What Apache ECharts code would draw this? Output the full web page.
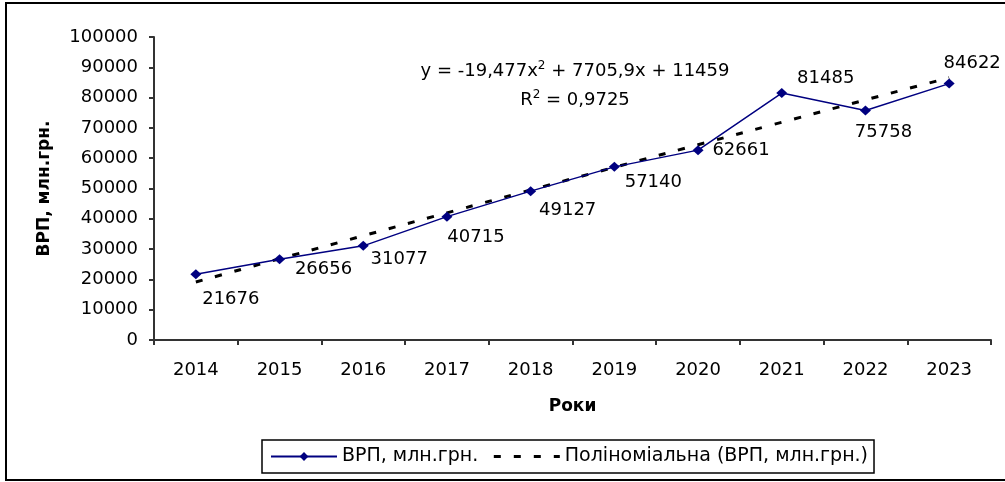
<!DOCTYPE html>
<html>
<head>
<meta charset="utf-8">
<script src="https://cdn.jsdelivr.net/npm/echarts@6/dist/echarts.min.js"></script>
<style>
html,body{margin:0;padding:0;background:#fff;}
#c{width:1005px;height:482px;}
</style>
</head>
<body>
<div id="c"></div>
<script>
// ---- data ----
const years = ['2014','2015','2016','2017','2018','2019','2020','2021','2022','2023'];
const grpValues = [21676, 26656, 31077, 40715, 49127, 57140, 62661, 81485, 75758, 84622];
// polynomial trend (as shown on chart: y = -19,477x^2 + 7705,9x + 11459)
const trendValues = [19145, 26793, 34401, 41971, 49502, 56993, 64446, 71860, 79235, 86570];
const seriesName = 'ВРП, млн.грн.';
const trendName = 'Поліноміальна (ВРП, млн.грн.)';
const xAxisTitle = 'Роки';
const yAxisTitle = 'ВРП, млн.грн.';
const equationText = '{n|y = -19,477x}{s|2}{n| + 7705,9x + 11459}';
const r2Text = '{n|R}{s|2}{n| = 0,9725}';

// ---- styling (label placement offsets per point) ----
const labelOffsets = [[35,25],[44,10],[36,13],[29,21],[37,19],[39,15],[43,0],[44,-15],[18,22],[23,-20]];

const FONT = 'DejaVu Sans';
const chart = echarts.init(document.getElementById('c'), null, {renderer:'canvas'});

const grpData = grpValues.map((v,i)=>({
  value: v,
  label: { offset: labelOffsets[i] }
}));

const eqRich = {
  n: { fontSize: 18, fontFamily: FONT, fill: '#000', lineHeight: 20, verticalAlign: 'bottom' },
  s: { fontSize: 12, fontFamily: FONT, fill: '#000', lineHeight: 12, verticalAlign: 'top' }
};

chart.setOption({
  animation: false,
  backgroundColor: '#fff',
  grid: { left: 154, right: 14, top: 37, bottom: 142, containLabel: false },
  xAxis: {
    type: 'category',
    data: years,
    boundaryGap: true,
    axisLine: { lineStyle: { color: '#333', width: 2 } },
    axisTick: { show: true, length: 5, interval: 0, lineStyle: { color: '#333', width: 2 } },
    axisLabel: { color: '#000', fontFamily: FONT, fontSize: 18, margin: 21, interval: 0 },
    splitLine: { show: false },
    name: xAxisTitle,
    nameLocation: 'middle',
    nameGap: 58,
    nameTextStyle: { color: '#000', fontFamily: FONT, fontSize: 17, fontWeight: 'bold', verticalAlign: 'top' }
  },
  yAxis: {
    type: 'value',
    min: 0, max: 100000, interval: 10000,
    axisLine: { show: true, lineStyle: { color: '#333', width: 2 } },
    axisTick: { show: true, length: 5, lineStyle: { color: '#333', width: 2 } },
    axisLabel: { color: '#000', fontFamily: FONT, fontSize: 18, margin: 16, formatter: function(v){ return String(v); } },
    splitLine: { show: false },
    name: yAxisTitle,
    nameLocation: 'middle',
    nameGap: 101,
    nameRotate: 90,
    nameTextStyle: { color: '#000', fontFamily: FONT, fontSize: 17, fontWeight: 'bold' }
  },
  legend: {
    left: 262, top: 440,
    orient: 'horizontal',
    borderColor: '#000', borderWidth: 1.5,
    padding: [7, 6, 7, 8],
    itemWidth: 66, itemHeight: 11, itemGap: 14,
    textStyle: { color: '#000', fontFamily: FONT, fontSize: 19 },
    data: [
      { name: seriesName },
      { name: trendName, itemStyle: { opacity: 0 }, lineStyle: { width: 3, type: [7, 13], color: '#000' } }
    ]
  },
  series: [
    {
      name: trendName,
      type: 'line',
      data: trendValues,
      smooth: true,
      symbol: 'none',
      lineStyle: { color: '#000', width: 3, type: [7, 13] },
      itemStyle: { color: '#000' },
      z: 2
    },
    {
      name: seriesName,
      type: 'line',
      data: grpData,
      symbol: 'diamond',
      symbolSize: [11, 10],
      lineStyle: { color: '#000080', width: 1.5 },
      itemStyle: { color: '#000080' },
      label: {
        show: true,
        position: 'inside',
        align: 'center',
        verticalAlign: 'middle',
        color: '#000',
        fontFamily: FONT,
        fontSize: 18
      },
      z: 3
    }
  ],
  graphic: [
    {
      type: 'rect', z: -1, silent: true,
      shape: { x: 6, y: 3, width: 1010, height: 477 },
      style: { fill: 'none', stroke: '#000', lineWidth: 2 }
    },
    {
      type: 'text', silent: true,
      x: 575, y: 70,
      style: {
        text: equationText,
        align: 'center', verticalAlign: 'middle',
        fill: '#000', fontFamily: FONT, fontSize: 18,
        rich: eqRich
      }
    },
    {
      type: 'text', silent: true,
      x: 575, y: 99,
      style: {
        text: r2Text,
        align: 'center', verticalAlign: 'middle',
        fill: '#000', fontFamily: FONT, fontSize: 18,
        rich: eqRich
      }
    }
  ]
});
</script>
</body>
</html>
